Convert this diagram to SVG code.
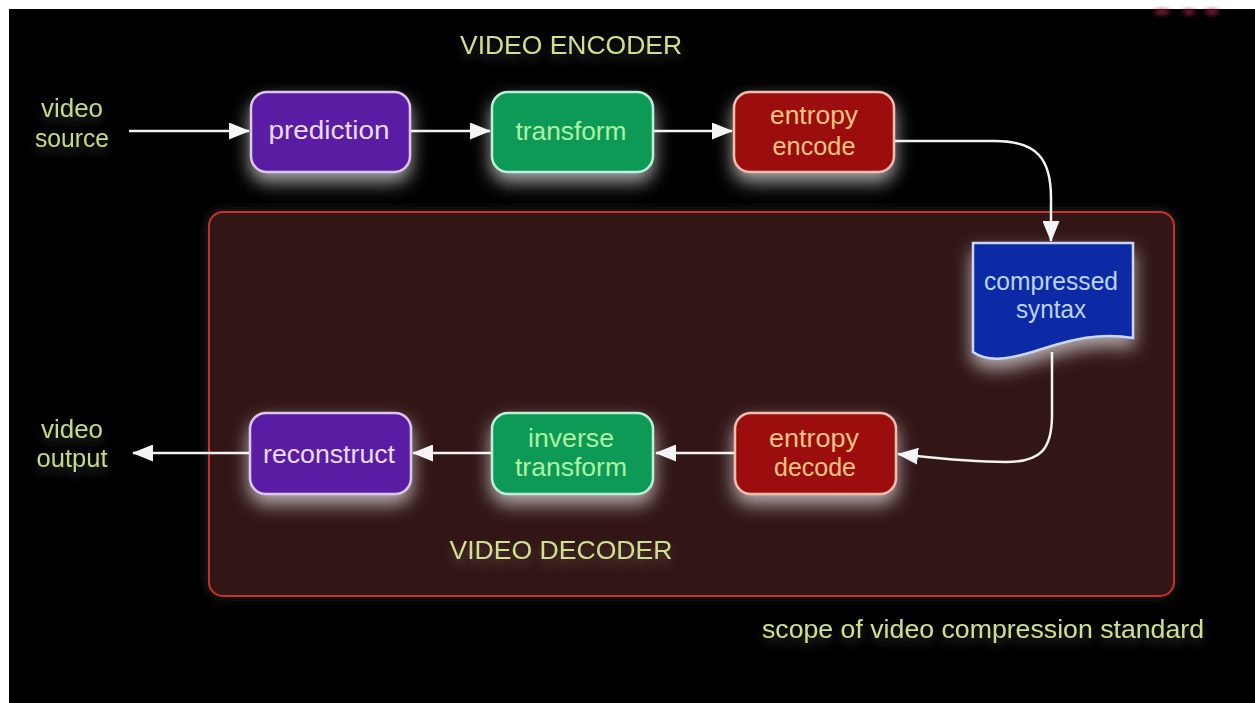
<svg xmlns="http://www.w3.org/2000/svg" width="1255" height="703" viewBox="0 0 1255 703">
  <defs>
    <style>
      text { font-family: "Liberation Sans", Arial, sans-serif; font-size: 25px; text-anchor: middle; }
      .label { fill: #c4da86; }
      .title { fill: #cfe08e; }
      .wire { fill: none; stroke: #f2f2f2; stroke-width: 2.5; }
      .box { stroke-width: 2.5; }
      .purple { fill: #5a1fa2; stroke: #dcc6f2; }
      .purple-t { fill: #eadcf4; }
      .green { fill: #0f9a56; stroke: #bcf0da; }
      .green-t { fill: #aef2a2; }
      .red { fill: #9c1108; stroke: #f2bcb2; }
      .red-t { fill: #f2c482; }
      .blue { fill: #0b2aa6; stroke: #cad8f8; stroke-width: 2.5; }
      .blue-t { fill: #bcd4f2; }
    </style>
    <marker id="arrow" viewBox="0 0 21 17" refX="20" refY="8.5" markerWidth="21" markerHeight="17" markerUnits="userSpaceOnUse" orient="auto">
      <path d="M0,0 L21,8.5 L0,17 Z" fill="#f4f4f4"/>
    </marker>
    <filter id="glow" x="-30%" y="-40%" width="160%" height="200%">
      <feGaussianBlur in="SourceAlpha" stdDeviation="9"/>
      <feOffset dy="9" result="b"/>
      <feFlood flood-color="#ffffff" flood-opacity="0.65"/>
      <feComposite in2="b" operator="in"/>
      <feMerge><feMergeNode/><feMergeNode in="SourceGraphic"/></feMerge>
    </filter>
    <filter id="halo" x="-10%" y="-10%" width="120%" height="120%">
      <feGaussianBlur in="SourceAlpha" stdDeviation="6" result="s"/>
      <feFlood flood-color="#2a2a2a"/>
      <feComposite in2="s" operator="in"/>
      <feMerge><feMergeNode/><feMergeNode in="SourceGraphic"/></feMerge>
    </filter>
    <filter id="tglow" x="-10%" y="-50%" width="120%" height="220%">
      <feGaussianBlur in="SourceAlpha" stdDeviation="4"/>
      <feOffset dy="6" result="b"/>
      <feFlood flood-color="#ffffff" flood-opacity="0.18"/>
      <feComposite in2="b" operator="in"/>
      <feMerge><feMergeNode/><feMergeNode in="SourceGraphic"/></feMerge>
    </filter>
    <filter id="soft" x="-50%" y="-50%" width="200%" height="200%">
      <feGaussianBlur stdDeviation="2.5"/>
    </filter>
  </defs>

  <!-- page and backdrop -->
  <rect x="0" y="0" width="1255" height="703" fill="#ffffff"/>
  <rect x="9" y="9" width="1246" height="694" fill="#000000"/>

  <!-- faint logo remnant at the top edge -->
  <g filter="url(#soft)" fill="#a8284e" opacity="0.8">
    <ellipse cx="1162" cy="12" rx="8" ry="3"/>
    <ellipse cx="1189" cy="12" rx="6" ry="3"/>
    <ellipse cx="1212" cy="12" rx="7" ry="3"/>
  </g>

  <!-- decoder scope region -->
  <g id="scope">
    <rect x="209" y="212" width="965" height="384" rx="14" fill="#331818" stroke="#c4302c" stroke-width="2" filter="url(#halo)"/>
  </g>

  <!-- titles -->
  <g id="titles" filter="url(#tglow)">
    <text class="title" x="571" y="54" textLength="222" lengthAdjust="spacingAndGlyphs">VIDEO ENCODER</text>
    <text class="title" x="561" y="559" textLength="223" lengthAdjust="spacingAndGlyphs">VIDEO DECODER</text>
    <text class="title" x="983" y="638" font-size="24" textLength="442" lengthAdjust="spacingAndGlyphs">scope of video compression standard</text>
  </g>

  <!-- connectors -->
  <g id="connectors">
    <path class="wire" d="M129,131 H249" marker-end="url(#arrow)"/>
    <path class="wire" d="M410,131 H490" marker-end="url(#arrow)"/>
    <path class="wire" d="M653,131 H732" marker-end="url(#arrow)"/>
    <path class="wire" d="M894,141 H995 C1038,141 1051,160 1051,198 V241" marker-end="url(#arrow)"/>
    <path class="wire" d="M1052,352 V415 C1052,450 1040,462 1006,462 C965,462 935,458 898,454" marker-end="url(#arrow)"/>
    <path class="wire" d="M735,453 H656" marker-end="url(#arrow)"/>
    <path class="wire" d="M492,453 H413" marker-end="url(#arrow)"/>
    <path class="wire" d="M250,453 H133" marker-end="url(#arrow)"/>
  </g>

  <!-- endpoints -->
  <g id="video-source" filter="url(#tglow)">
    <text class="label" x="72" y="117" textLength="62" lengthAdjust="spacingAndGlyphs">video</text>
    <text class="label" x="72" y="147" textLength="74" lengthAdjust="spacingAndGlyphs">source</text>
  </g>
  <g id="video-output" filter="url(#tglow)">
    <text class="label" x="72" y="438" textLength="62" lengthAdjust="spacingAndGlyphs">video</text>
    <text class="label" x="72" y="467" textLength="71" lengthAdjust="spacingAndGlyphs">output</text>
  </g>

  <!-- encoder stages -->
  <g id="prediction">
    <rect class="box purple" x="251" y="92" width="159" height="80" rx="16" filter="url(#glow)"/>
    <text class="purple-t" x="329" y="139" textLength="121" lengthAdjust="spacingAndGlyphs">prediction</text>
  </g>
  <g id="transform">
    <rect class="box green" x="492" y="92" width="161" height="80" rx="16" filter="url(#glow)"/>
    <text class="green-t" x="571" y="140" textLength="111" lengthAdjust="spacingAndGlyphs">transform</text>
  </g>
  <g id="entropy-encode">
    <rect class="box red" x="734" y="92" width="160" height="80" rx="16" filter="url(#glow)"/>
    <text class="red-t" x="814" y="124" textLength="88" lengthAdjust="spacingAndGlyphs">entropy</text>
    <text class="red-t" x="814" y="155" textLength="83" lengthAdjust="spacingAndGlyphs">encode</text>
  </g>

  <!-- bitstream -->
  <g id="compressed-syntax">
    <path class="blue" d="M973,243 H1133 V338 C1100,332 1070,340 1045,348 C1015,358 990,364 973,352 Z" filter="url(#glow)"/>
    <text class="blue-t" x="1051" y="290" textLength="134" lengthAdjust="spacingAndGlyphs">compressed</text>
    <text class="blue-t" x="1051" y="318" textLength="70" lengthAdjust="spacingAndGlyphs">syntax</text>
  </g>

  <!-- decoder stages -->
  <g id="entropy-decode">
    <rect class="box red" x="735" y="413" width="161" height="81" rx="16" filter="url(#glow)"/>
    <text class="red-t" x="814" y="447" textLength="90" lengthAdjust="spacingAndGlyphs">entropy</text>
    <text class="red-t" x="815" y="476" textLength="82" lengthAdjust="spacingAndGlyphs">decode</text>
  </g>
  <g id="inverse-transform">
    <rect class="box green" x="492" y="413" width="161" height="81" rx="16" filter="url(#glow)"/>
    <text class="green-t" x="571" y="447" textLength="86" lengthAdjust="spacingAndGlyphs">inverse</text>
    <text class="green-t" x="571" y="476" textLength="112" lengthAdjust="spacingAndGlyphs">transform</text>
  </g>
  <g id="reconstruct">
    <rect class="box purple" x="250" y="413" width="161" height="81" rx="16" filter="url(#glow)"/>
    <text class="purple-t" x="329" y="463" textLength="132" lengthAdjust="spacingAndGlyphs">reconstruct</text>
  </g>
</svg>
